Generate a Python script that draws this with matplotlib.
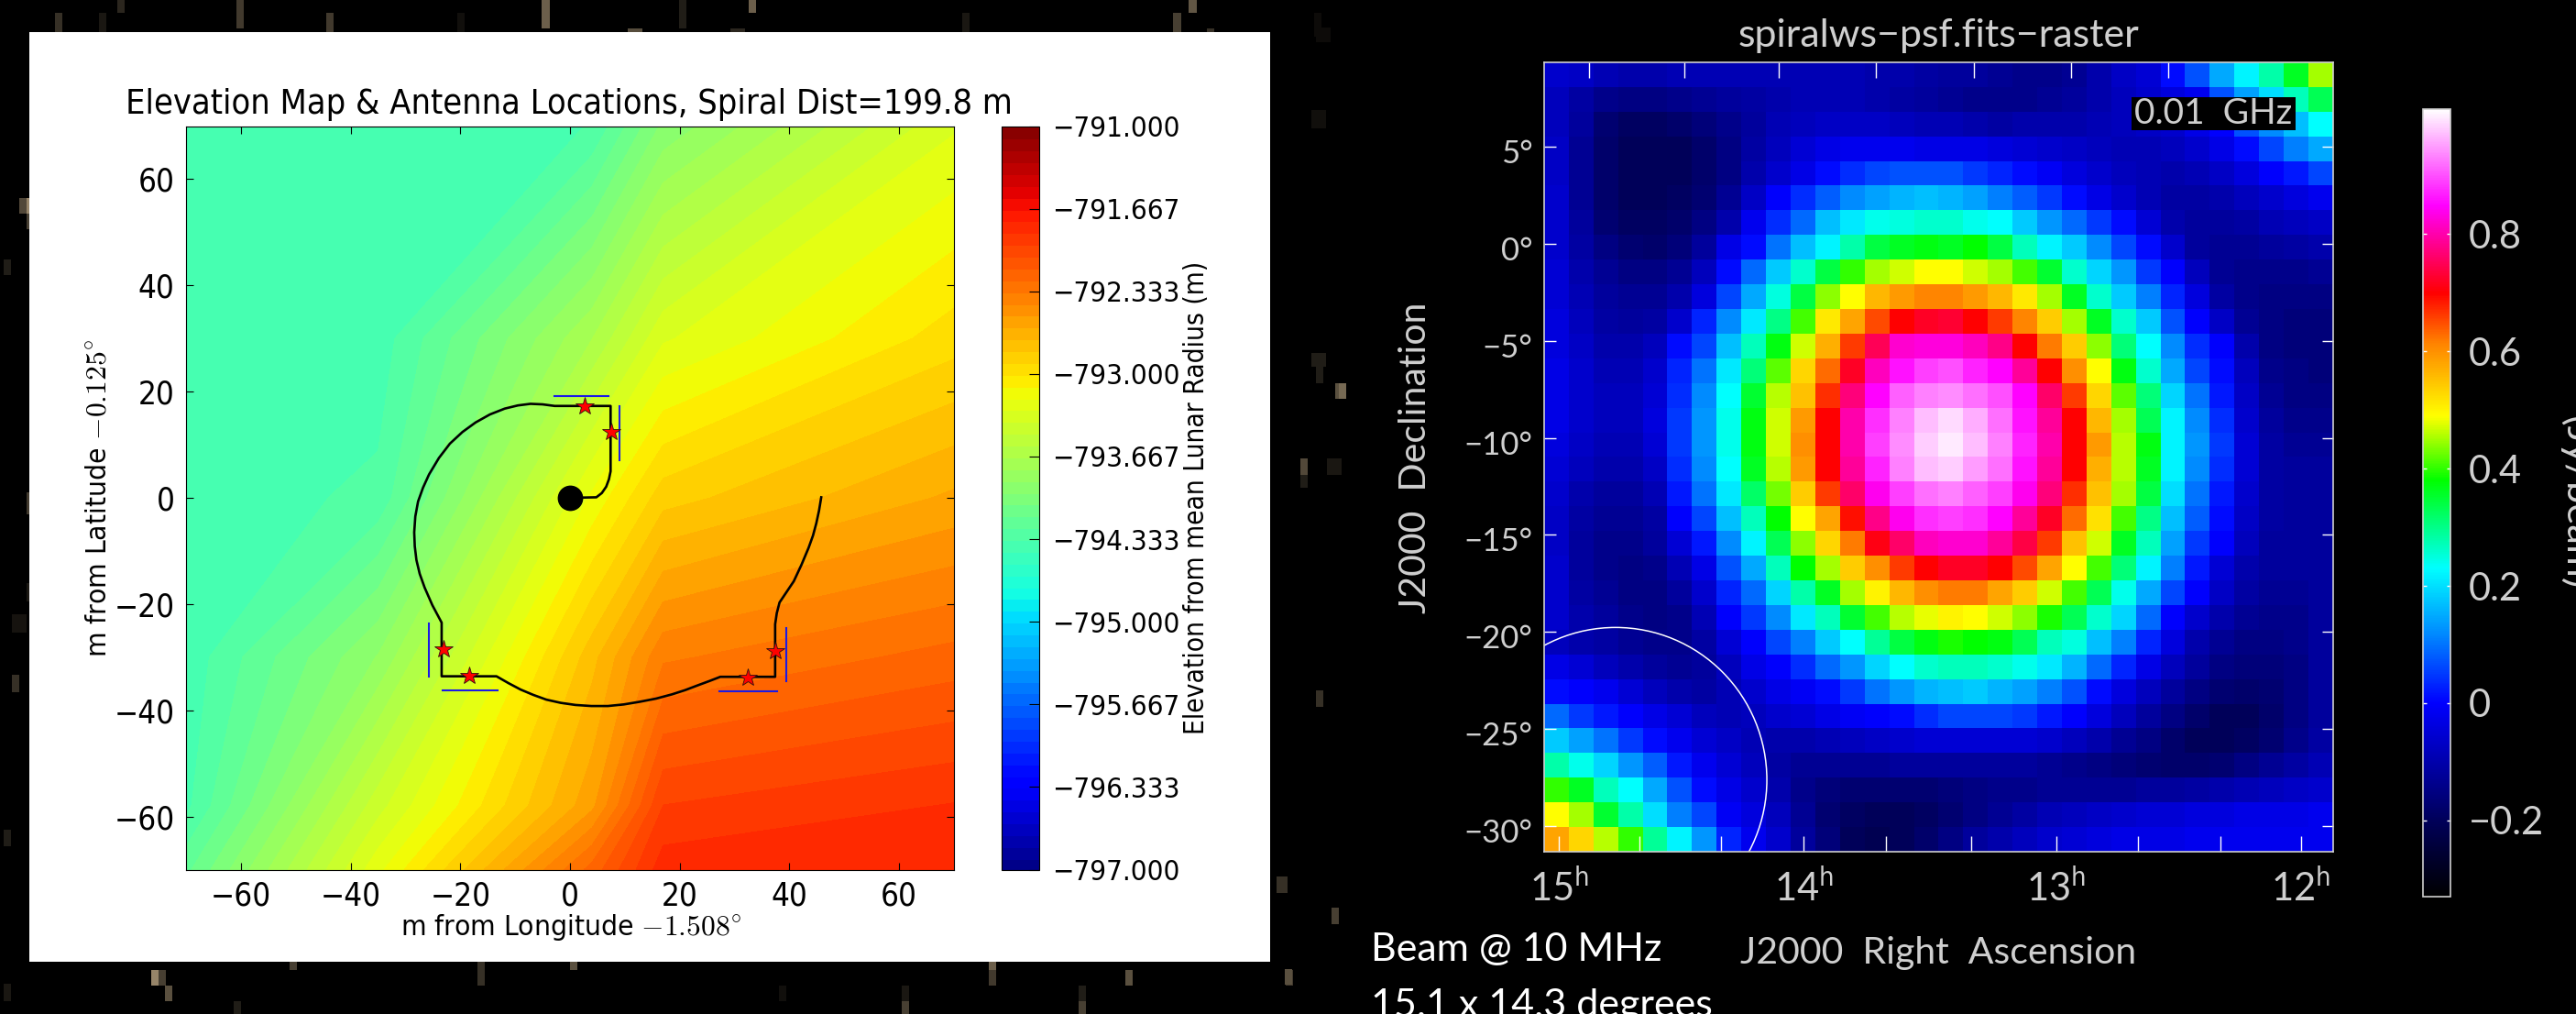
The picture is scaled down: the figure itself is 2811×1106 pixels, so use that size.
import numpy as np
from matplotlib import pyplot as plt
from matplotlib.colors import LinearSegmentedColormap
from matplotlib.patches import Ellipse, Rectangle
from matplotlib.transforms import ScaledTranslation

W, H = 2811, 1106

# elevation map, left panel
elev_lon = [-70, -35, 4, 17, 70]
elev_lat = [-70, -58, -30, 0, 30, 70]
elev_west = [-794.17, -794.36, -794.4, -794.4, -794.4, -794.42]
elev_mid = [-793.22, -793.42, -793.85, -794.31, -794.39, -794.42]
elev_near = [-792.2, -792.55, -792.75, -793.17, -793.67, -794.33]
elev_east = [-791.8, -791.95, -792.35, -792.85, -793.3, -793.93]
elev_edge = [-791.85, -791.85, -792.2, -792.6, -792.95, -793.3]
elev_ticks = [-797, -796.333, -795.667, -795, -794.333, -793.667, -793, -792.333, -791.667, -791]
elev_tick_labels = ["−797.000", "−796.333", "−795.667", "−795.000", "−794.333", "−793.667", "−793.000",
                    "−792.333", "−791.667", "−791.000"]

path_x = [0, 4.8, 5.8, 6.6, 7.1, 7.4, 7.4, 7.4, -2.8, -5, -7.2, -9.5, -11.9, -14.6, -17.2, -19.6, -21.9, -23.9,
          -25.7, -26.8, -27.7, -28.2, -28.4, -28.3, -28, -27.4, -26.5, -25.1, -23.4, -23.4, -13.4, -11.2, -9, -6.7,
          -4.3, -1.7, 1, 3.9, 6.9, 9.8, 12.7, 15.7, 18.6, 21, 23.3, 25.4, 27.4, 37.4, 37.4, 37.7, 38.2, 39.5, 40.8,
          42.2, 43.5, 44.3, 44.9, 45.4, 45.8]
path_y = [0, 0.1, 0.9, 2.1, 3.5, 5, 7.3, 17.3, 17.3, 17.6, 17.7, 17.4, 16.8, 15.7, 14.2, 12.4, 10.2, 7.5,
          4.4, 1.9, -0.7, -3.5, -6.5, -9.1, -11.7, -14.3, -16.9, -20.2, -23.5, -33.6, -33.6, -34.9, -36.1, -37.1,
          -38, -38.6, -39, -39.2, -39.2, -38.9, -38.4, -37.8, -37, -36.2, -35.3, -34.5, -33.7, -33.7, -23.8, -21.7,
          -19.7, -17.7, -15.7, -12.6, -9.4, -7.1, -4.8, -2.4, 0.1]
star_x = [2.6, 7.6, -23.1, -18.4, 32.4, 37.4]
star_y = [17.3, 12.4, -28.5, -33.5, -33.8, -28.8]
arm_x0 = [-2.9, 9.0, -25.7, -23.3, 27.2, 39.5]
arm_x1 = [7.1, 9.0, -25.7, -13.2, 37.7, 39.5]
arm_y0 = [19.2, 17.3, -23.6, -36.2, -36.5, -24.5]
arm_y1 = [19.2, 7.1, -33.7, -36.2, -36.5, -34.6]

# psf raster, right panel, top row first
psf = [
    [-.06, -.07, -.09, -.1, -.1, -.09, -.09, -.09, -.09, -.09, -.09, -.09, -.09, -.1, -.1, -.11, -.12, -.12, -.13, -.14, -.14, -.13, -.1, -.07, -.05, .01, .07, .15, .22, .28, .36, .45],
    [-.08, -.11, -.14, -.15, -.15, -.14, -.13, -.12, -.11, -.1, -.09, -.09, -.09, -.1, -.11, -.12, -.13, -.14, -.14, -.14, -.13, -.12, -.1, -.08, -.06, -.04, -.02, .07, .14, .2, .27, .33],
    [-.08, -.12, -.17, -.19, -.19, -.18, -.16, -.14, -.12, -.09, -.08, -.07, -.07, -.07, -.08, -.09, -.09, -.1, -.11, -.1, -.1, -.1, -.09, -.08, -.07, -.06, -.03, .0, .07, .12, .17, .23],
    [-.07, -.13, -.18, -.2, -.2, -.2, -.18, -.15, -.11, -.08, -.05, -.03, -.02, -.02, -.02, -.03, -.03, -.03, -.04, -.05, -.06, -.07, -.08, -.09, -.09, -.08, -.06, -.03, .01, .06, .11, .15],
    [-.07, -.13, -.18, -.2, -.2, -.2, -.18, -.15, -.1, -.06, -.03, .01, .04, .06, .07, .07, .07, .05, .03, .01, -.01, -.04, -.06, -.08, -.09, -.1, -.09, -.07, -.04, .0, .02, .06],
    [-.06, -.13, -.18, -.2, -.2, -.19, -.17, -.13, -.07, .0, .04, .08, .12, .14, .16, .17, .16, .14, .11, .08, .05, .01, -.03, -.06, -.09, -.11, -.11, -.1, -.08, -.06, -.04, -.02],
    [-.06, -.12, -.17, -.19, -.19, -.18, -.15, -.1, -.02, .04, .09, .17, .21, .24, .25, .26, .26, .24, .23, .18, .13, .09, .05, .01, -.05, -.1, -.12, -.12, -.11, -.09, -.08, -.07],
    [-.06, -.11, -.15, -.17, -.18, -.16, -.12, -.03, .01, .1, .17, .22, .28, .34, .36, .37, .36, .38, .34, .27, .22, .18, .12, .06, .01, -.06, -.12, -.13, -.13, -.12, -.11, -.1],
    [-.05, -.1, -.13, -.15, -.15, -.13, -.08, .01, .09, .18, .26, .34, .4, .45, .47, .49, .49, .47, .45, .41, .35, .26, .19, .13, .05, .0, -.08, -.13, -.14, -.14, -.14, -.13],
    [-.05, -.09, -.12, -.13, -.13, -.1, -.04, .06, .15, .25, .34, .44, .49, .56, .59, .61, .61, .59, .56, .51, .45, .36, .26, .18, .11, .03, -.04, -.11, -.14, -.15, -.15, -.15],
    [-.04, -.08, -.11, -.12, -.11, -.06, .03, .12, .21, .3, .41, .51, .58, .65, .7, .72, .73, .7, .66, .61, .54, .45, .36, .26, .18, .07, .0, -.07, -.13, -.15, -.16, -.16],
    [-.04, -.07, -.1, -.1, -.08, .01, .06, .17, .27, .37, .47, .57, .66, .75, .82, .83, .83, .81, .78, .7, .62, .54, .44, .31, .23, .12, .04, .0, -.1, -.15, -.16, -.16],
    [-.03, -.06, -.09, -.09, -.06, .03, .1, .21, .31, .42, .53, .63, .72, .81, .86, .89, .9, .87, .85, .79, .7, .6, .49, .37, .26, .15, .06, .01, -.08, -.14, -.15, -.16],
    [-.03, -.06, -.08, -.08, -.05, .04, .12, .23, .35, .46, .55, .67, .77, .85, .91, .93, .94, .92, .9, .85, .76, .66, .53, .42, .31, .19, .1, .02, -.07, -.13, -.15, -.15],
    [-.03, -.06, -.08, -.08, -.04, .05, .13, .24, .37, .47, .59, .7, .8, .88, .93, .97, .99, .96, .92, .86, .79, .7, .56, .45, .33, .22, .12, .04, -.06, -.12, -.14, -.14],
    [-.04, -.07, -.09, -.09, -.05, .05, .13, .24, .37, .47, .6, .7, .8, .89, .94, .98, 1.0, .97, .93, .87, .8, .7, .59, .46, .37, .22, .13, .05, -.05, -.11, -.13, -.13],
    [-.05, -.08, -.1, -.1, -.07, .04, .12, .23, .36, .46, .59, .7, .79, .87, .93, .97, .98, .95, .92, .86, .79, .7, .57, .46, .36, .22, .12, .04, -.05, -.11, -.12, -.12],
    [-.06, -.1, -.12, -.12, -.09, .02, .1, .21, .32, .43, .54, .66, .76, .84, .89, .92, .93, .91, .89, .84, .77, .67, .55, .45, .34, .2, .1, .02, -.06, -.11, -.12, -.12],
    [-.07, -.11, -.13, -.13, -.11, .0, .06, .17, .27, .38, .49, .58, .69, .78, .84, .88, .89, .88, .85, .79, .72, .63, .52, .41, .3, .17, .08, .01, -.07, -.11, -.12, -.12],
    [-.07, -.12, -.14, -.14, -.12, -.05, .02, .12, .22, .33, .44, .53, .62, .71, .76, .81, .82, .82, .79, .74, .66, .55, .47, .36, .27, .14, .05, .0, -.08, -.12, -.12, -.12],
    [-.06, -.12, -.14, -.15, -.14, -.09, -.03, .07, .15, .27, .38, .45, .54, .6, .66, .7, .72, .72, .7, .65, .58, .49, .41, .31, .22, .11, .02, -.05, -.1, -.12, -.12, -.12],
    [-.06, -.11, -.13, -.15, -.15, -.12, -.06, .03, .09, .19, .28, .36, .45, .5, .56, .6, .62, .62, .58, .54, .47, .41, .33, .24, .15, .06, .0, -.07, -.11, -.13, -.13, -.12],
    [-.06, -.1, -.12, -.14, -.15, -.14, -.09, .0, .05, .12, .21, .27, .35, .41, .46, .48, .5, .49, .47, .44, .39, .33, .26, .19, .09, .0, -.06, -.1, -.13, -.14, -.14, -.12],
    [-.08, -.1, -.11, -.13, -.14, -.14, -.11, -.05, .0, .06, .11, .18, .23, .29, .34, .37, .39, .38, .37, .33, .27, .25, .17, .11, .03, -.04, -.1, -.13, -.15, -.15, -.14, -.12],
    [-.03, -.05, -.08, -.1, -.12, -.13, -.12, -.08, -.03, .0, .04, .09, .13, .19, .23, .26, .27, .27, .26, .24, .21, .16, .09, .03, -.03, -.08, -.12, -.15, -.16, -.16, -.15, -.12],
    [.01, .0, -.02, -.05, -.08, -.1, -.11, -.09, -.06, -.03, -.01, .01, .05, .1, .13, .16, .17, .18, .16, .14, .11, .07, .01, -.04, -.08, -.12, -.15, -.17, -.18, -.17, -.15, -.12],
    [.09, .05, .02, .0, -.03, -.05, -.08, -.09, -.08, -.06, -.05, -.03, -.01, .0, .01, .04, .06, .06, .06, .05, .02, .0, -.04, -.08, -.12, -.15, -.18, -.2, -.2, -.18, -.15, -.12],
    [.18, .14, .1, .05, .01, -.02, -.05, -.07, -.09, -.1, -.1, -.09, -.08, -.07, -.06, -.05, -.05, -.05, -.05, -.05, -.06, -.08, -.1, -.13, -.15, -.18, -.2, -.2, -.19, -.17, -.14, -.11],
    [.28, .24, .19, .13, .08, .02, -.02, -.05, -.08, -.11, -.13, -.13, -.13, -.13, -.12, -.12, -.12, -.12, -.12, -.12, -.13, -.14, -.15, -.16, -.17, -.18, -.18, -.17, -.15, -.13, -.11, -.09],
    [.4, .36, .27, .23, .15, .07, .01, -.03, -.06, -.1, -.14, -.16, -.17, -.17, -.17, -.17, -.16, -.15, -.14, -.14, -.13, -.13, -.13, -.13, -.12, -.12, -.11, -.1, -.09, -.08, -.07, -.06],
    [.49, .45, .35, .28, .2, .11, .06, -.01, -.04, -.08, -.13, -.17, -.19, -.2, -.2, -.19, -.17, -.15, -.13, -.11, -.09, -.08, -.07, -.06, -.05, -.05, -.04, -.04, -.03, -.03, -.03, -.02],
    [.58, .53, .46, .4, .29, .22, .13, .03, -.02, -.06, -.12, -.16, -.2, -.21, -.2, -.18, -.15, -.12, -.1, -.08, -.06, -.05, -.04, -.03, -.03, -.03, -.02, -.02, -.02, -.02, -.02, -.02],
]
psf_stops = [-.33, -.2, 0, .12, .23, .38, .49, .615, .70, .80, .85, 1.014]
psf_colours = ["#000000", "#00005a", "#0000ff", "#008cff", "#00ffff", "#00ff00", "#ffff00", "#ff8200",
               "#ff0000", "#ff00aa", "#ff00ff", "#ffffff"]
ra_bottom = [14.97, 14.65, 14.32, 13.99, 13.66, 13.32, 12.98, 12.65, 12.32, 12.0]
ra_labels = ["15$^{\\mathrm{h}}$", "", "", "14$^{\\mathrm{h}}$", "", "", "13$^{\\mathrm{h}}$", "", "", "12$^{\\mathrm{h}}$"]
ra_top = [14.85, 14.47, 14.09, 13.70, 13.31, 12.92, 12.53]
dec_ticks = [5, 0, -5, -10, -15, -20, -25, -30]
dec_labels = ["5°", "0°", "−5°", "−10°", "−15°", "−20°", "−25°", "−30°"]
psf_ticks = [-.2, 0, .2, .4, .6, .8]
psf_tick_labels = ["−0.2", "0", "0.2", "0.4", "0.6", "0.8"]

# star field speckles behind the slide
speck_x = [128, 258, 60, 108, 356, 499, 591, 685, 741, 817, 797, 1050, 1297, 1280, 1317, 1434,
           165, 173, 180, 316, 521, 622, 1079, 1079, 1228, 1403, 850, 984, 984, 1177, 1177, 255,
           1436, 1431, 1431, 1436, 1457, 1461, 1448, 1419, 1419, 1436, 1393, 1453, 1402,
           29, 21, 29, 4, 29, 29, 13, 13, 4, 4]
speck_y = [0, 0, 14, 14, 14, 14, 0, 31, 0, 0, 31, 14, 0, 14, 31, 14,
           1058, 1058, 1075, 1049, 1049, 1049, 1049, 1058, 1058, 1058, 1075, 1075, 1092, 1075, 1092, 1092,
           30, 120, 385, 400, 418, 418, 500, 500, 518, 753, 956, 990, 1057,
           216, 216, 233, 283, 537, 636, 670, 736, 905, 1073]
speck_w = [8, 8, 8, 8, 8, 8, 9, 16, 8, 8, 16, 8, 9, 9, 8, 8,
           8, 8, 8, 8, 8, 8, 8, 8, 8, 8, 8, 8, 8, 8, 8, 8,
           16, 16, 16, 8, 8, 8, 16, 8, 8, 8, 12, 8, 8,
           8, 8, 8, 8, 8, 8, 16, 8, 8, 8]
speck_h = [14, 31, 21, 21, 21, 21, 31, 4, 31, 14, 4, 21, 14, 21, 4, 26,
           17, 17, 17, 9, 26, 9, 9, 17, 17, 17, 17, 17, 14, 17, 14, 14,
           16, 20, 15, 18, 17, 17, 18, 18, 14, 18, 18, 18, 17,
           17, 17, 17, 17, 24, 20, 20, 19, 18, 19]
speck_level = [.2, .3, .25, .12, .3, .08, .5, .4, .15, .5, .2, .12, .45, .33, .25, .06,
               .7, .33, .42, .33, .25, .42, .5, .3, .42, .3, .08, .12, .33, .15, .33, .15,
               .06, .08, .15, .15, .42, .55, .12, .38, .15, .25, .25, .33, .42,
               .7, .38, .33, .15, .3, .12, .1, .25, .15, .12]

plt.rcParams["mathtext.fontset"] = "cm"
plt.rcParams["font.stretch"] = "condensed"
fig = plt.figure(figsize=(W / 100, H / 100), dpi=100, facecolor="black")


def px_axes(x0, y0, x1, y1):
    return fig.add_axes([x0 / W, 1 - y1 / H, (x1 - x0) / W, (y1 - y0) / H])


def px_text(x, y, s, size, **kw):
    fig.text(x / W, 1 - y / H, s, fontsize=size * 0.72, **kw)


back = fig.add_axes([0, 0, 1, 1], zorder=-1)
back.set_xlim(0, W)
back.set_ylim(H, 0)
back.axis("off")
tan = np.array([215, 190, 150]) / 255
back.bar(speck_x, speck_h, bottom=speck_y, width=speck_w, align="edge",
         color=[tuple(tan * v) for v in speck_level], linewidth=0)
back.add_patch(Rectangle((32, 35), 1354, 1014, color="white", linewidth=0))

# left panel
ax = px_axes(203, 137.5, 1041, 948.5)
cax = px_axes(1093, 137.5, 1134, 948.5)
levels = np.linspace(-797, -791, 64)
elev = np.array([elev_west, elev_mid, elev_near, elev_east, elev_edge]).T
cs = ax.contourf(elev_lon, elev_lat, elev, levels=levels, cmap="jet")
ax.plot(path_x, path_y, color="black", linewidth=1.9)
ax.plot(0, 0, "o", color="black", markersize=19)
for x0, x1, y0, y1 in zip(arm_x0, arm_x1, arm_y0, arm_y1):
    ax.plot([x0, x1], [y0, y1], color="#1a1ae6", linewidth=1.5)
ax.plot(star_x, star_y, "*", color="red", markeredgecolor="#301010", markeredgewidth=0.6, markersize=15)
ax.set_xlim(-70, 70)
ax.set_ylim(-70, 70)
ax.set_xticks(range(-60, 61, 20))
ax.set_yticks(range(-60, 61, 20))
ax.tick_params(direction="in", top=True, right=True, length=6, width=0.8, labelsize=25, pad=9)
cb = fig.colorbar(cs, cax=cax, ticks=elev_ticks)
cb.set_ticklabels(elev_tick_labels)
cb.solids.set_edgecolor("face")
cax.tick_params(direction="in", length=8, width=0.8, labelsize=22.4, pad=10)
px_text(621, 114, "Elevation Map & Antenna Locations, Spiral Dist=199.8 m", 37.7, ha="center", va="center")
px_text(623, 1012, "m from Longitude $-1.508^{\\circ}$", 31.5, ha="center", va="center")
px_text(107, 543, "m from Latitude $-0.125^{\\circ}$", 31.5, ha="center", va="center", rotation=90)
px_text(1306, 543, "Elevation from mean Lunar Radius (m)", 29.7, ha="center", va="center", rotation=90)

# right panel
grey = "#cfcfcf"
psf_cmap = LinearSegmentedColormap.from_list(
    "psf", [((s - psf_stops[0]) / (psf_stops[-1] - psf_stops[0]), c) for s, c in zip(psf_stops, psf_colours)], N=512)
rax = px_axes(1685, 68.4, 2546, 929)
rcax = px_axes(2644, 118.5, 2674, 978)
im = rax.imshow(psf, extent=[15.03, 11.87, -31.3, 9.3], aspect="auto", interpolation="nearest",
                cmap=psf_cmap, vmin=psf_stops[0], vmax=psf_stops[-1])
rax.add_patch(Ellipse((14.744, -27.6), 1.212, 15.68, fill=False, edgecolor="white", linewidth=1.1))
rax.add_patch(Rectangle((0.744, 0.915), 0.208, 0.041, transform=rax.transAxes, color="black", linewidth=0))
rax.text(0.848, 0.935, "0.01  GHz", transform=rax.transAxes, ha="center", va="center", color=grey,
         fontsize=28, family="Lato")
rax.set_xticks(ra_bottom)
rax.set_xticklabels(ra_labels, family="Lato", math_fontfamily="dejavusans")
rax.set_yticks(dec_ticks)
rax.set_yticklabels(dec_labels, family="Lato")
rax.tick_params(axis="x", direction="in", color="white", labelcolor=grey, length=12, width=1, labelsize=30, pad=13)
rax.tick_params(axis="y", direction="in", color="white", labelcolor=grey, length=9, width=1, labelsize=25, pad=9,
                right=True)
shift = ScaledTranslation(0, -5 / 100, fig.dpi_scale_trans)
for t in rax.get_yticklabels():
    t.set_transform(t.get_transform() + shift)
top = rax.secondary_xaxis("top")
top.set_xticks(ra_top)
top.set_xticklabels([])
top.tick_params(direction="in", color="white", length=12, width=1)
top.spines["top"].set_visible(False)
for sp in rax.spines.values():
    sp.set_color(grey)
    sp.set_linewidth(1.2)
rb = fig.colorbar(im, cax=rcax, ticks=psf_ticks)
rb.set_ticklabels(psf_tick_labels, family="Lato")
rb.outline.set_edgecolor(grey)
rb.outline.set_linewidth(1.2)
rcax.tick_params(direction="in", left=True, right=True, color="white", labelcolor=grey, length=3, width=1,
                 labelsize=30, pad=14)
px_text(2115, 39, "spiralws−psf.fits−raster", 43, ha="center", va="center", color=grey, family="Lato")
px_text(2115, 1040, "J2000  Right  Ascension", 41, ha="center", va="center", color=grey, family="Lato")
px_text(1544, 499, "J2000  Declination", 41, ha="center", va="center", color=grey, rotation=90, family="Lato")
px_text(2812, 548, "(Jy/beam)", 43.5, ha="center", va="center", color=grey, rotation=270, family="Lato")
px_text(1496, 1036, "Beam @ 10 MHz", 43, ha="left", va="center", color="white", family="Lato")
px_text(1496, 1097, "15.1 x 14.3 degrees", 43, ha="left", va="center", color="white", family="Lato")

fig.savefig("out.png", dpi=100, facecolor="black")
